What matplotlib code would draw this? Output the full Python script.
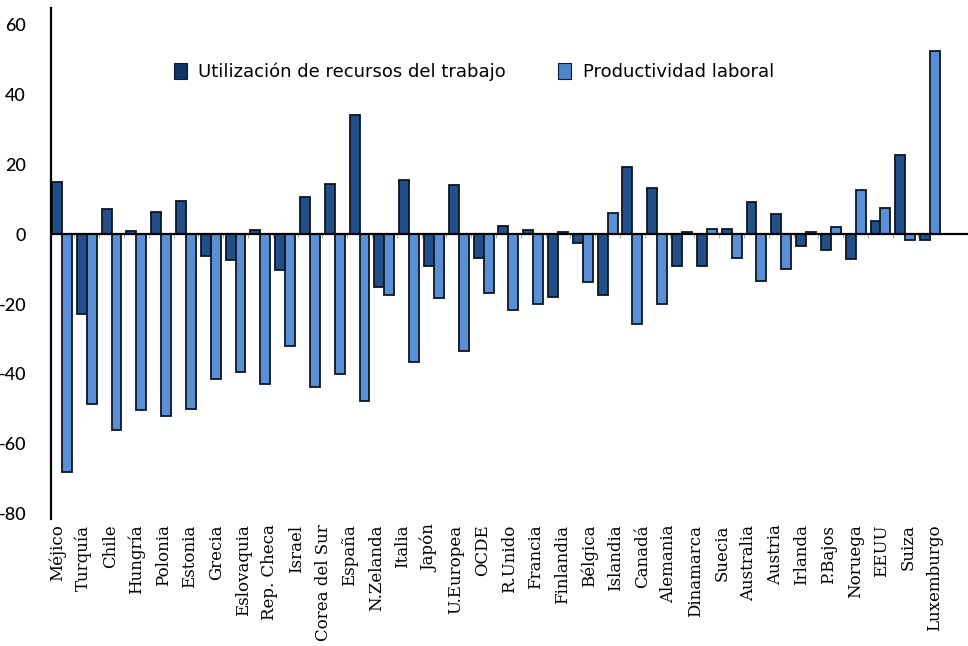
import numpy as np
import matplotlib
matplotlib.use("Agg")
import matplotlib.pyplot as plt
from matplotlib.patches import Patch

# 36 bar groups (34 labels shown in the original)
labor_util = [15.0, -22.9, 7.2, 0.9, 6.2, 9.4, -6.3, -7.4, 1.2, -10.3, 10.5, 14.3,
              34.2, -15.1, 15.5, -9.1, 14.2, -6.8, 2.3, 1.1, -17.9, -2.4, -17.5, 19.3,
              13.1, -9.1, -9.1, 1.6, 9.2, 5.9, -3.4, -4.4, -7.2, 3.8, 22.6, -1.7]
productivity = [-68.0, -48.6, -55.9, -50.4, -52.1, -49.9, -41.4, -39.3, -43.0, -32.0, -43.7, -40.1,
                -47.7, -17.5, -36.7, -18.4, -33.4, -16.7, -21.7, -20.1, 0.7, -13.8, 6.1, -25.6,
                -20.0, 0.7, 1.6, -6.8, -13.4, -10.1, 0.7, 2.1, 12.6, 7.6, -1.7, 52.4]

labels = ["Méjico", "Turquía", "Chile", "Hungría", "Polonia", "Estonia", "Grecia",
          "Eslovaquia", "Rep. Checa", "Israel", "Corea del Sur", "España", "N.Zelanda",
          "Italia", "Japón", "U.Europea", "OCDE", "R.Unido", "Francia", "Finlandia",
          "Bélgica", "Islandia", "Canadá", "Alemania", "Dinamarca", "Suecia", "Australia",
          "Austria", "Irlanda", "P.Bajos", "Noruega", "EEUU", "Suiza", "Luxemburgo"]

yticks = [-80, -60, -40, -20, 0, 20, 40, 60]
series_names = ["Utilización de recursos del trabajo", "Productividad laboral"]

dark = "#234f88"
light = "#5b8fd5"

fig = plt.figure(figsize=(9.68, 6.46), dpi=100)
ax = fig.add_axes([51/968, 127/646, 1 - 51/968, (519 - 8)/646])

x = np.arange(len(labor_util))
w = 0.4
ax.bar(x - w/2, labor_util, width=w, color=dark, edgecolor="#0e1624", linewidth=1.3, zorder=2)
ax.bar(x + w/2, productivity, width=w, color=light, edgecolor="#0e1624", linewidth=1.3, zorder=2)

ax.set_xlim(-0.44, 36.53)
ax.set_ylim(-81.5, 64.7)

ax.axhline(0, color="black", linewidth=1.6, zorder=3)
# small separator ticks below zero line
bounds = x[:-1] + 0.5
ax.vlines(bounds, -1.2, 0, color="#aaaaaa", linewidth=0.8, zorder=1)

for s in ["top", "right", "bottom"]:
    ax.spines[s].set_visible(False)
ax.spines["left"].set_linewidth(1.6)
ax.spines["left"].set_color("black")

ax.set_yticks(yticks)
ax.set_yticklabels([str(v) for v in yticks], fontsize=13, family="Lato", fontweight="medium")
ax.tick_params(axis="y", length=0, pad=18)

lab_pos = np.linspace(-0.2, 35.2, len(labels))
ax.set_xticks(lab_pos)
ax.set_xticklabels(labels, rotation=90, fontsize=12, family="DejaVu Serif")
ax.tick_params(axis="x", length=0, pad=4)

handles = [Patch(facecolor="#0f3566", edgecolor="#0a1a30", linewidth=0.8),
           Patch(facecolor="#4e84c8", edgecolor="#0a1a30", linewidth=0.8)]
fig.legend(handles, series_names, loc="center left",
           bbox_to_anchor=(174/968, 1 - 72/646), ncol=2, frameon=False,
           prop={"family": "DejaVu Sans", "size": 13},
           handlelength=0.7, handleheight=1.0, handletextpad=0.65,
           columnspacing=2.9, borderpad=0, borderaxespad=0)

fig.savefig("out.png", dpi=100)
